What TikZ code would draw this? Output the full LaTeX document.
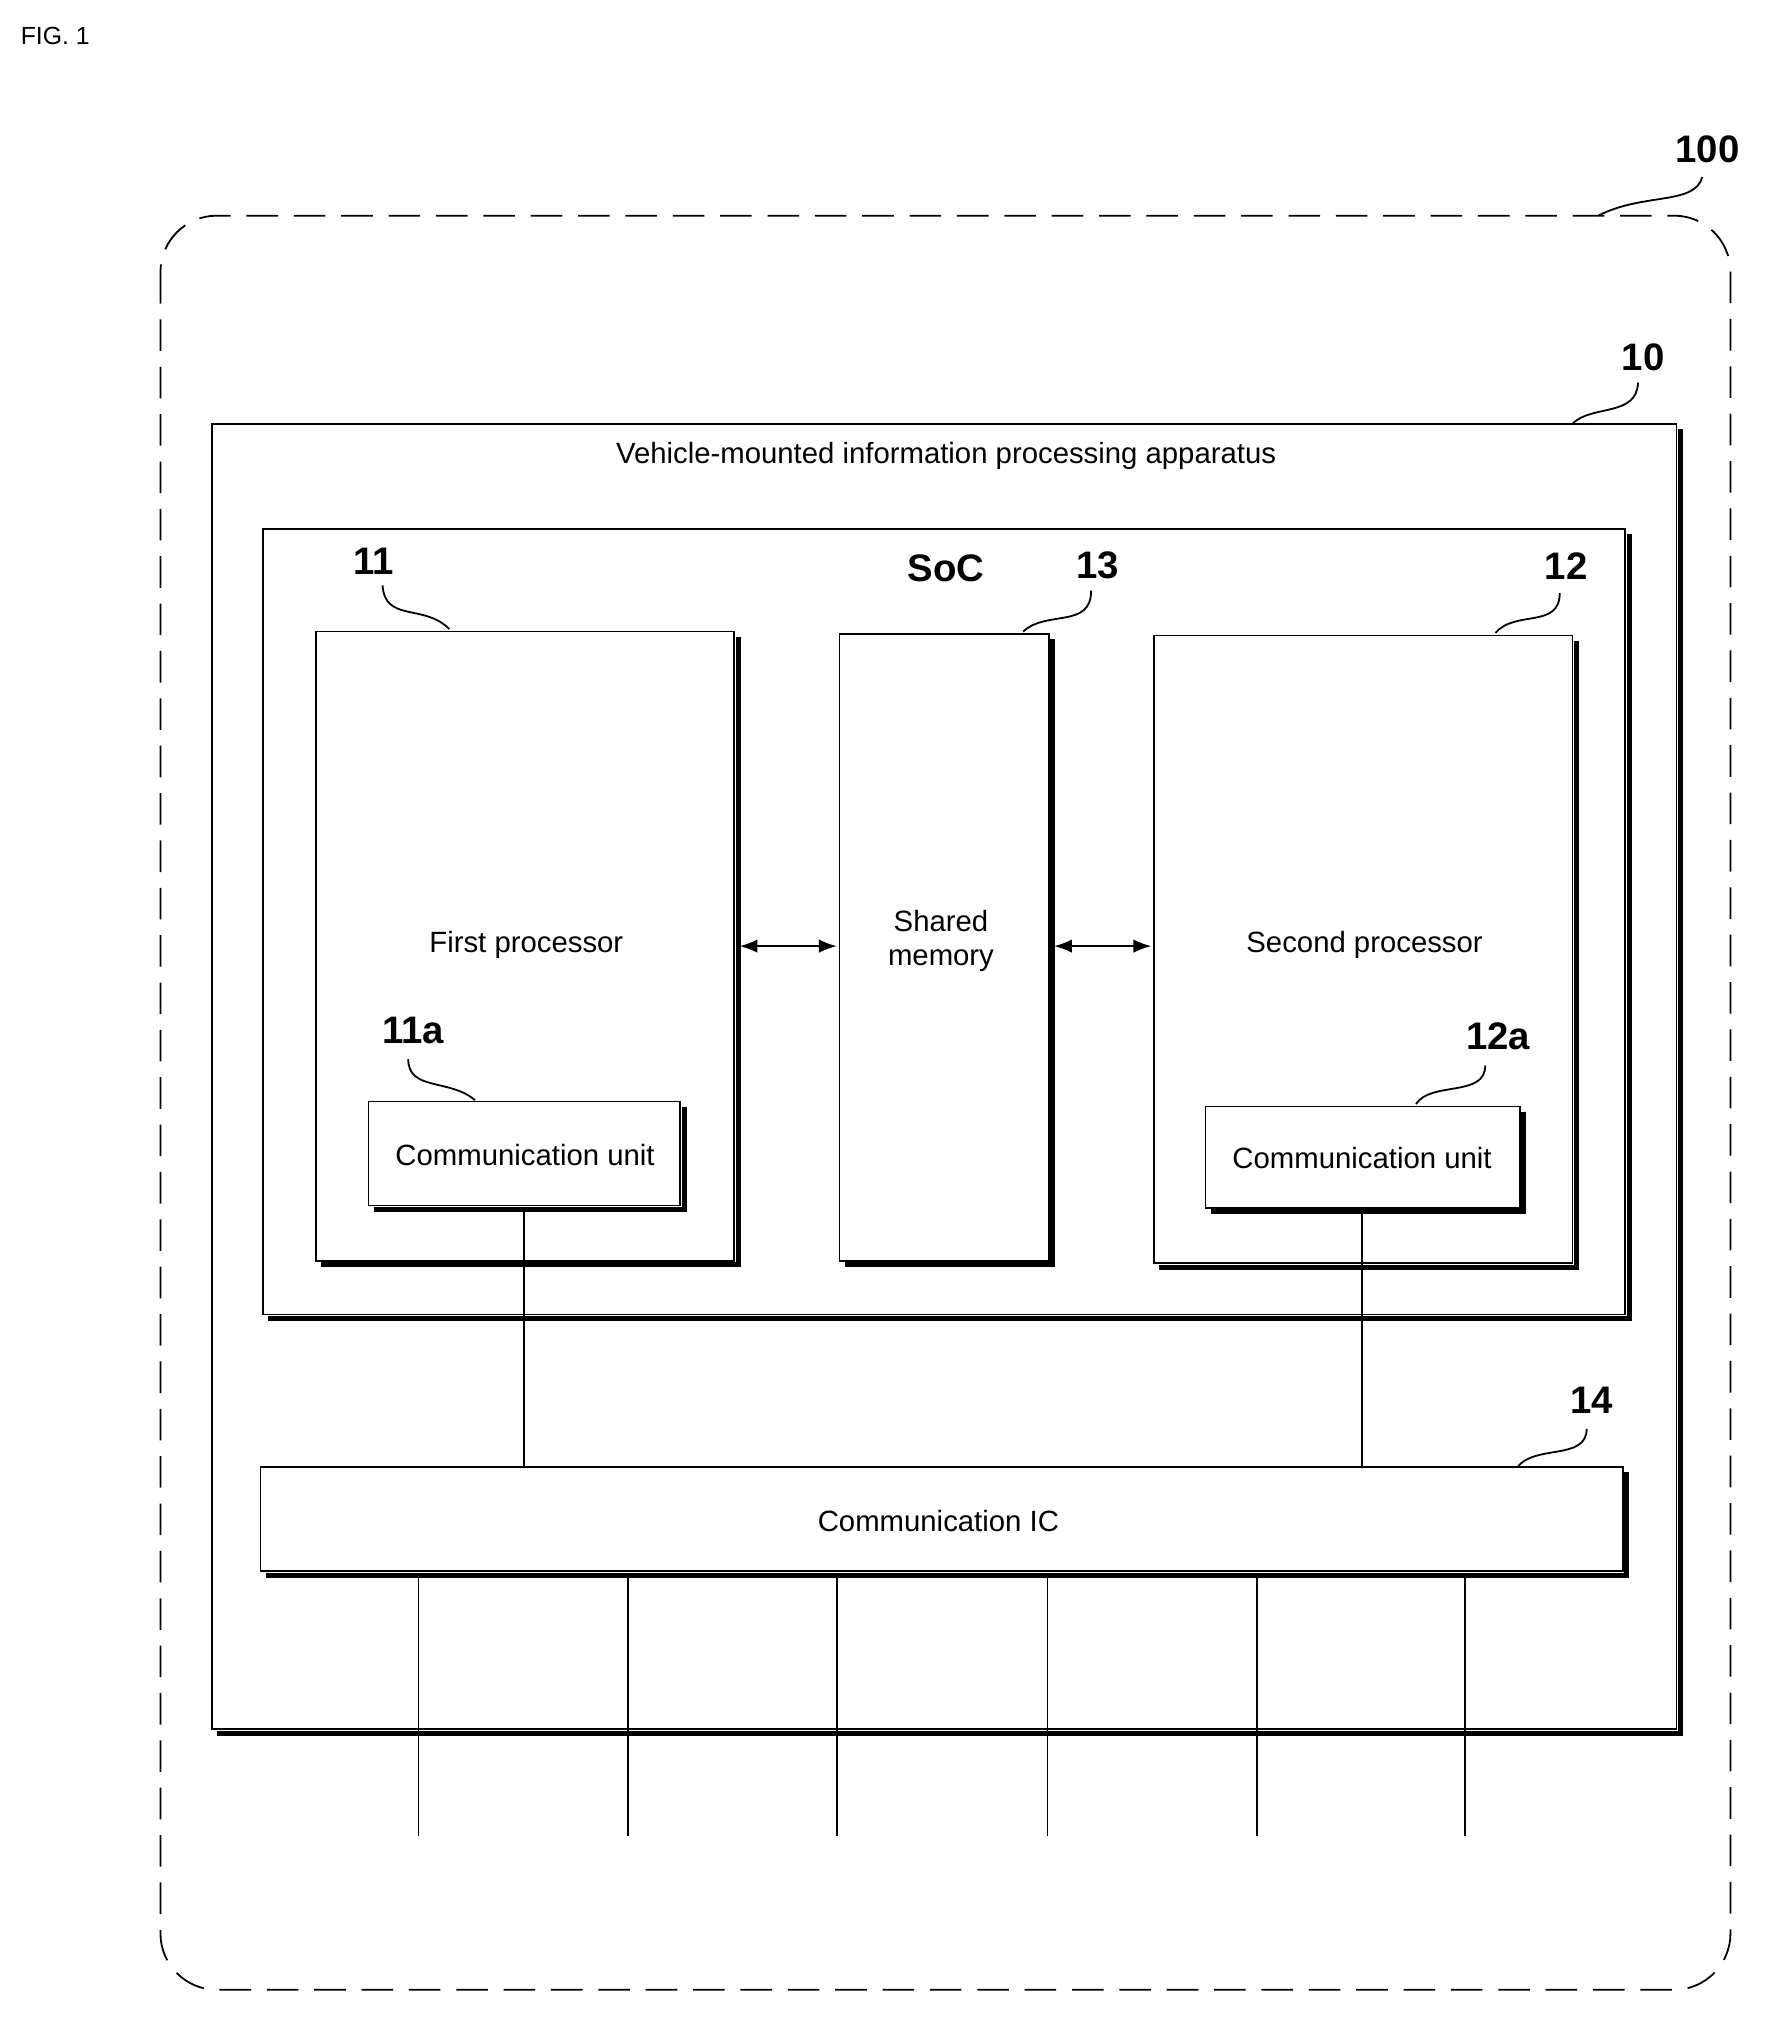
\documentclass[tikz,border=0pt]{standalone}
\usepackage{fontspec}
\setmainfont{Liberation Sans}
\usetikzlibrary{arrows.meta}
\begin{document}
\begin{tikzpicture}[x=0.02cm,y=-0.02cm,
  box/.style={draw,line width=0.8pt},
  lbl/.style={font=\fontsize{13}{15}\selectfont},
  num/.style={font=\fontsize{17}{19}\selectfont\bfseries},
  lead/.style={line width=0.8pt}]
\useasboundingbox (0,0) rectangle (1380,1572);
\node[anchor=west,font=\fontsize{11}{13}\selectfont] (fig) at (10,28) {FIG. 1};
% outer
\draw[dashed,dash pattern=on 14pt off 7pt,line width=0.8pt,rounded corners=25] (125,168) rectangle (1348,1550);
\node[num] (n100) at (1330,116) {100};
\coordinate (c100) at (1245,168);
\draw[lead] (c100) .. controls (1280,150) and (1320,160) .. (1326,138);
% shadow macro-ish
\newcommand{\shbox}[5]{%
  \draw[line width=2.2pt] (#3+3,#2+4) -- (#3+3,#4+3) -- (#1+4,#4+3);
  \draw[box] (#1,#2) rectangle (#3,#4);
  \coordinate (#5) at ({(#1+#3)/2},{(#2+#4)/2});}
\shbox{165}{330}{1306}{1347}{b10}
\node[lbl] (t10) at (737,355) {Vehicle-mounted information processing apparatus};
\node[num] (n10) at (1280,278) {10};
\draw[lead] (1225,330) .. controls (1240,315) and (1275,325) .. (1276,298);
\shbox{205}{412}{1266}{1024}{soc}
\node[num] (tsoc) at (737,443) {SoC};
\shbox{246}{492}{572}{982}{p1}
\shbox{654}{494}{817}{982}{mem}
\shbox{899}{495}{1225}{984}{p2}
\node[num] (n11) at (291,437) {11};
\draw[lead] (350,490) .. controls (330,470) and (300,485) .. (298,456);
\node[num] (n13) at (855,440) {13};
\draw[lead] (797,492) .. controls (815,475) and (850,490) .. (850,460);
\node[num] (n12) at (1220,441) {12};
\draw[lead] (1165,493) .. controls (1180,475) and (1215,490) .. (1215,462);
\node[lbl] (t1) at (410,736) {First processor};
\node[lbl,align=center] (tm) at (733,733) {Shared\\memory};
\node[lbl] (t2) at (1063,736) {Second processor};
\shbox{287}{858}{530}{939}{cu1}
\shbox{939}{862}{1184}{941}{cu2}
\node[lbl] at (409,900) {Communication unit};
\node[lbl] at (1061,902) {Communication unit};
\node[num] (n11a) at (322,803) {11a};
\draw[lead] (370,857) .. controls (350,840) and (318,850) .. (318,825);
\node[num] (n12a) at (1167,807) {12a};
\draw[lead] (1103,860) .. controls (1115,842) and (1157,855) .. (1157,830);
\draw[line width=1pt,{Latex[length=8pt]}-{Latex[length=8pt]}] (576,737) -- (652,737);
\draw[line width=1pt,{Latex[length=8pt]}-{Latex[length=8pt]}] (821,737) -- (897,737);
\shbox{203}{1143}{1264}{1224}{ic}
\node[lbl] (tic) at (731,1185) {Communication IC};
\node[num] (n14) at (1240,1091) {14};
\draw[lead] (1182,1143) .. controls (1195,1125) and (1236,1138) .. (1236,1113);
\draw[line width=0.8pt] (408,941) -- (408,1143);
\draw[line width=0.8pt] (1061,943) -- (1061,1143);
\foreach \x in {326,489,652,816,979,1141} \draw[line width=0.8pt] (\x,1227) -- (\x,1430);
\end{tikzpicture}
\end{document}
